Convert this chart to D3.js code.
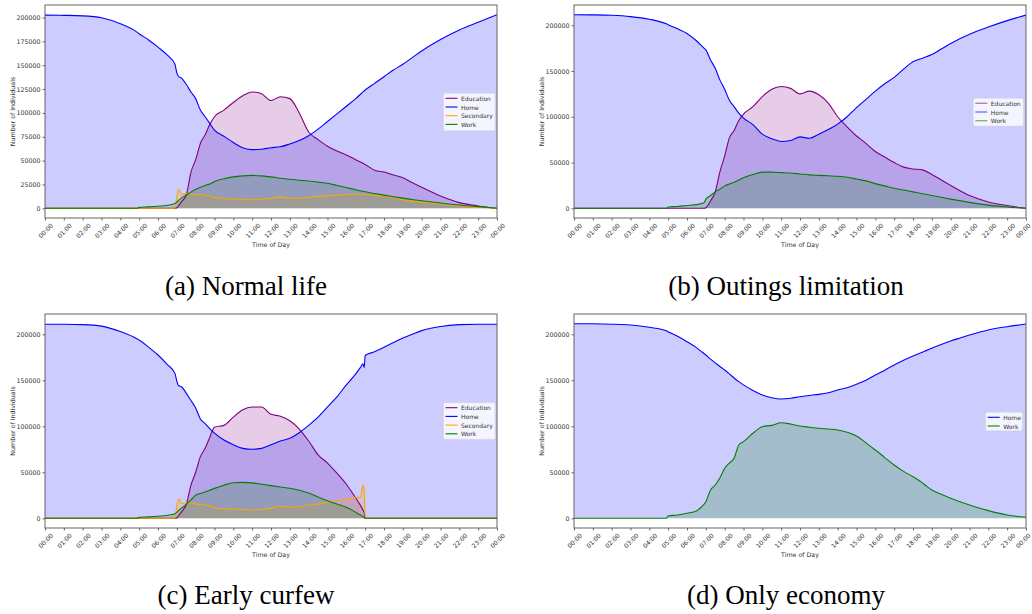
<!DOCTYPE html>
<html><head><meta charset="utf-8">
<script src="https://cdn.jsdelivr.net/npm/d3@7"></script>
<style>body{margin:0;background:#fff} svg{display:block}</style>
</head><body><svg id="c" width="1032" height="614"></svg>
<script>
// ---------- DATA ----------
const hourTicks = d3.range(0, 25);
const tickLabels = hourTicks.map(h => String(h % 24).padStart(2, "0") + ":00");
const yTicksA = [0, 25000, 50000, 75000, 100000, 125000, 150000, 175000, 200000];
const yTicksB = [0, 50000, 100000, 150000, 200000];
const activityNames = ["Education", "Home", "Secondary", "Work"];
const captions = ["(a) Normal life", "(b) Outings limitation", "(c) Early curfew", "(d) Only economy"];

// (a) Normal life
const normalTimes = [0,1,2,3,4,4.9,5,5.5,6,6.5,6.9,7,7.1,7.25,7.5,7.75,8,8.25,8.5,8.75,9,9.5,10,10.5,11,11.5,12,12.5,13,13.5,14,14.5,15,15.5,16,16.5,17,17.5,18,18.5,19,19.5,20,21,22,23,24];
const normalHome = [202500,202300,201800,199800,193500,184500,183000,176500,169000,160500,151000,142000,138000,136500,130000,122000,115000,103000,96000,89000,82000,75500,69000,63500,61500,62000,63500,64500,67500,71000,76000,83000,91000,99000,107000,115000,124000,131000,138000,145000,151000,158000,165000,177000,187000,195000,203000];
const normalEducation = [0,0,0,0,0,0,0,0,0,0,0,500,3000,7000,14000,38000,51000,68000,77000,88000,96000,103000,111000,118000,122000,120000,113000,117000,115000,100000,80000,72000,65000,60000,56000,51000,46000,40000,38000,35000,32000,27000,22000,13000,6000,2500,0];
const normalSecondary = [0,0,0,0,0,0,0,0,0,0,0,12000,20000,15000,15500,15000,14500,14500,14000,13000,11500,10500,9500,9500,9000,9500,10500,12000,10500,10500,11500,12500,13000,14000,14500,15000,14500,13500,13000,11000,9000,7500,6500,4500,2500,1200,0];
const normalWork = [0,0,0,0,0,0,1000,1500,2200,3200,5000,6500,8500,11000,14000,17000,20000,22000,24000,25500,28000,31000,33000,34000,34500,34000,33000,31500,30500,29500,28700,27500,26300,24000,21800,19500,17300,15500,13800,12200,10700,9200,7900,5500,3400,1800,0];

// (b) Outings limitation
const outingsTimes = [0,1,2,3,4,4.9,5,5.5,6,6.5,6.9,7,7.25,7.5,7.75,8,8.25,8.5,8.75,9,9.5,10,10.5,11,11.5,12,12.5,13,13.5,14,14.5,15,15.5,16,16.5,17,17.5,18,18.5,19,19.5,20,21,22,23,24];
const outingsHome = [211500,211300,210800,209400,206500,201500,200500,196000,191000,183000,175000,173000,162000,153000,140000,130000,118000,111000,104000,98500,91500,81000,76000,73000,74000,78000,76500,81000,86000,92000,100000,110000,119000,128000,136000,143000,152000,160000,164000,168000,174000,180000,190000,198000,205000,211000];
const outingsEducation = [0,0,0,0,0,0,0,0,0,0,0,500,8000,18000,40000,57000,77000,85000,96000,103000,111000,122000,130000,133000,131000,125000,128000,124000,115000,100000,89000,79000,71000,62000,56000,50000,45000,43000,42000,37000,31000,25000,14000,7000,3000,0];
const outingsWork = [0,0,0,0,0,0,1500,2000,3000,4000,6000,10000,14000,18000,21000,24500,26500,28500,31000,33500,37000,39500,39500,39000,38500,37500,36500,36000,35500,35000,34000,32000,30000,27000,24500,22000,20000,18000,16000,14000,12000,10000,6500,3500,1500,0];

// (c) Early curfew
const curfewTimes = [0,1,2,3,4,4.9,5,5.5,6,6.5,6.9,7,7.1,7.25,7.5,7.75,8,8.25,8.5,8.75,9,9.5,10,10.5,11,11.5,12,12.5,13,13.5,14,14.5,15,15.5,16,16.5,16.75,16.88,16.95,17,17.5,18,18.5,19,19.5,20,21,22,23,24];
const curfewHome = [211000,210900,210500,208900,203000,195000,193800,186000,177500,167000,157500,149000,144000,143000,136000,128000,120000,108000,103000,97500,92500,85000,80000,76000,75000,76000,80000,84000,87000,93000,101000,110000,121000,132000,145000,157000,164000,168000,164000,177000,181000,186000,191000,196000,200000,204000,208500,210500,211000,211000];
const curfewEducation = [0,0,0,0,0,0,0,0,0,0,0,500,3000,7000,15000,36000,50000,67000,76000,88000,99000,101000,110000,118000,121000,121000,113000,111000,106000,97000,84000,69000,60000,49000,37000,22000,14000,9000,6000,0,0,0,0,0,0,0,0,0,0,0];
const curfewSecondary = [0,0,0,0,0,0,0,0,0,0,0,13000,21500,16000,16500,17000,15500,15000,14500,13500,11500,10500,10000,9500,9000,9500,11000,13000,12000,12500,14500,15500,17500,19000,21000,22500,23000,36000,30000,0,0,0,0,0,0,0,0,0,0,0];
const curfewWork = [0,0,0,0,0,0,1000,1500,2200,3200,5000,6500,8500,11000,15000,20000,25000,27000,28500,30500,32500,36000,38700,39000,38500,37000,35500,34000,32600,30500,27500,23000,19000,15500,12000,6500,3500,1800,800,0,0,0,0,0,0,0,0,0,0,0];

// (d) Only economy
const economyTimes = [0,1,2,3,4,4.9,5,5.5,6,6.5,6.75,7,7.25,7.5,7.75,8,8.25,8.5,8.75,9,9.5,10,10.5,11,11.5,12,12.5,13,13.5,14,14.5,15,15.5,16,16.5,17,17.5,18,18.5,18.75,19,19.5,20,20.5,21,22,23,24];
const economyHome = [211500,211400,211000,210100,207600,203800,202800,197800,192000,185500,181500,177500,173000,169000,165000,161200,157000,152500,148500,145000,139000,134000,131000,129700,130500,132200,133500,134700,136500,139500,142000,145600,150000,155800,161000,166600,171800,176400,180500,182800,184800,189000,192700,196000,199200,204700,208300,211200];
const economyWork = [0,0,0,0,0,0,2500,3500,5400,8000,12000,18000,30800,36200,44000,54300,60000,65200,79700,83300,92400,99600,101000,103900,102500,100300,99000,97800,97000,96000,93500,89500,82000,74200,66000,57900,51000,45200,38500,34400,30800,26000,21700,18000,14500,8300,3600,1100];

const colors = {Education: "#800080", Home: "#0000ff", Secondary: "#ffa500", Work: "#008000"};

// ---------- LAYOUT ----------
const panels = [
  {times: normalTimes, series: {Education: normalEducation, Home: normalHome, Secondary: normalSecondary, Work: normalWork},
   box: {x0: 45, x1: 497, y0: 5, y1: 218}, yTicks: yTicksA, yMax: 203000, caption: captions[0], capX: 246, capY: 295,
   legend: {x: 443.5, y: 93.3, w: 51.5, h: 37.4}, legendAlpha: 1},
  {times: outingsTimes, series: {Education: outingsEducation, Home: outingsHome, Work: outingsWork},
   box: {x0: 574, x1: 1026, y0: 5, y1: 218}, yTicks: yTicksB, yMax: 211500, caption: captions[1], capX: 786, capY: 295,
   legend: {x: 973.3, y: 98.3, w: 50, h: 27.7}, legendAlpha: 0.5},
  {times: curfewTimes, series: {Education: curfewEducation, Home: curfewHome, Secondary: curfewSecondary, Work: curfewWork},
   box: {x0: 45, x1: 497, y0: 314, y1: 528}, yTicks: yTicksB, yMax: 211500, caption: captions[2], capX: 246, capY: 604,
   legend: {x: 443.5, y: 402.7, w: 51.5, h: 36.6}, legendAlpha: 1},
  {times: economyTimes, series: {Home: economyHome, Work: economyWork},
   box: {x0: 574, x1: 1026, y0: 314, y1: 528}, yTicks: yTicksB, yMax: 211500, caption: captions[3], capX: 786, capY: 604,
   legend: {x: 985.7, y: 412.3, w: 36.6, h: 18.4}, legendAlpha: 1}
];

const svg = d3.select("#c");
const font = "DejaVu Sans, sans-serif";

panels.forEach((p, pi) => {
  const b = p.box;
  const margin = p.yMax * 0.05;
  const x = d3.scaleLinear().domain([0, 24]).range([b.x0, b.x1]);
  const y = d3.scaleLinear().domain([-margin, p.yMax + margin]).range([b.y1, b.y0]);
  const g = svg.append("g");
  const clipId = "clip" + pi;
  svg.append("clipPath").attr("id", clipId).append("rect")
    .attr("x", b.x0).attr("y", b.y0).attr("width", b.x1 - b.x0).attr("height", b.y1 - b.y0);
  const plot = g.append("g").attr("clip-path", `url(#${clipId})`);
  const names = activityNames.filter(n => p.series[n]);

  names.forEach(n => {
    const vals = p.series[n];
    const pts = p.times.map((t, i) => [t, vals[i]]);
    const area = d3.area().x(d => x(d[0])).y0(y(0)).y1(d => y(d[1])).curve(d3.curveMonotoneX);
    plot.append("path").datum(pts).attr("d", area).attr("fill", colors[n]).attr("fill-opacity", 0.2);
  });
  names.forEach(n => {
    const vals = p.series[n];
    const pts = p.times.map((t, i) => [t, vals[i]]);
    const line = d3.line().x(d => x(d[0])).y(d => y(d[1])).curve(d3.curveMonotoneX);
    plot.append("path").datum(pts).attr("d", line).attr("fill", "none")
      .attr("stroke", colors[n]).attr("stroke-width", 1.1).attr("stroke-linejoin", "round");
  });

  // axes
  const yAxis = d3.axisLeft(y).tickValues(p.yTicks).tickSize(2.5).tickSizeOuter(0).tickPadding(2)
    .tickFormat(d3.format("d"));
  const ya = g.append("g").attr("transform", `translate(${b.x0},0)`).call(yAxis);
  ya.select(".domain").remove();
  ya.selectAll("line").attr("stroke", "#444").attr("stroke-width", 0.8);
  ya.selectAll("text").attr("font-size", 6.3).attr("font-family", font).attr("fill", "#333");

  const xAxis = d3.axisBottom(x).tickValues(hourTicks).tickSize(2.5).tickSizeOuter(0)
    .tickFormat((d, i) => tickLabels[i]);
  const xa = g.append("g").attr("transform", `translate(0,${b.y1})`).call(xAxis);
  xa.select(".domain").remove();
  xa.selectAll("line").attr("stroke", "#444").attr("stroke-width", 0.8);
  xa.selectAll("text").attr("font-size", 6.1).attr("font-family", font).attr("fill", "#333")
    .attr("y", 0).attr("dy", null).attr("text-anchor", "middle").attr("dominant-baseline", "central")
    .attr("transform", d => (b.x1 > 1000 && d === 24) ? "translate(-3.5,12.5) rotate(-45)" : "translate(0,12.5) rotate(-45)");

  // frame
  g.append("rect").attr("x", b.x0).attr("y", b.y0).attr("width", b.x1 - b.x0).attr("height", b.y1 - b.y0)
    .attr("fill", "none").attr("stroke", "#555").attr("stroke-width", 0.9);

  // axis labels
  g.append("text").attr("x", (b.x0 + b.x1) / 2).attr("y", b.y1 + 29).attr("text-anchor", "middle")
    .attr("font-size", 6.3).attr("font-family", font).attr("fill", "#333").text("Time of Day");
  g.append("text").attr("transform", `translate(${b.x0 - 30.5},${(b.y0 + b.y1) / 2}) rotate(-90)`)
    .attr("text-anchor", "middle").attr("font-size", 6.3).attr("font-family", font).attr("fill", "#333")
    .text("Number of Individuals");

  // legend
  const L = p.legend;
  const lg = g.append("g");
  lg.append("rect").attr("x", L.x).attr("y", L.y).attr("width", L.w).attr("height", L.h).attr("rx", 1.5)
    .attr("fill", "#fff").attr("fill-opacity", 0.8).attr("stroke", "#d8d8d8").attr("stroke-width", 0.6);
  names.forEach((n, i) => {
    const cy = L.y + 5 + i * 8.7;
    lg.append("line").attr("x1", L.x + 2).attr("x2", L.x + 14).attr("y1", cy).attr("y2", cy)
      .attr("stroke", colors[n]).attr("stroke-width", p.legendAlpha < 1 ? 1.4 : 1.1)
      .attr("stroke-opacity", p.legendAlpha);
    lg.append("text").attr("x", L.x + 17.5).attr("y", cy).attr("dominant-baseline", "central")
      .attr("font-size", 6).attr("font-family", font).attr("fill", "#333").text(n);
  });

  // caption
  svg.append("text").attr("x", p.capX).attr("y", p.capY).attr("text-anchor", "middle")
    .attr("font-family", "Liberation Serif, Times New Roman, serif").attr("font-size", 27).attr("fill", "#000")
    .text(p.caption);
});
</script></body></html>
